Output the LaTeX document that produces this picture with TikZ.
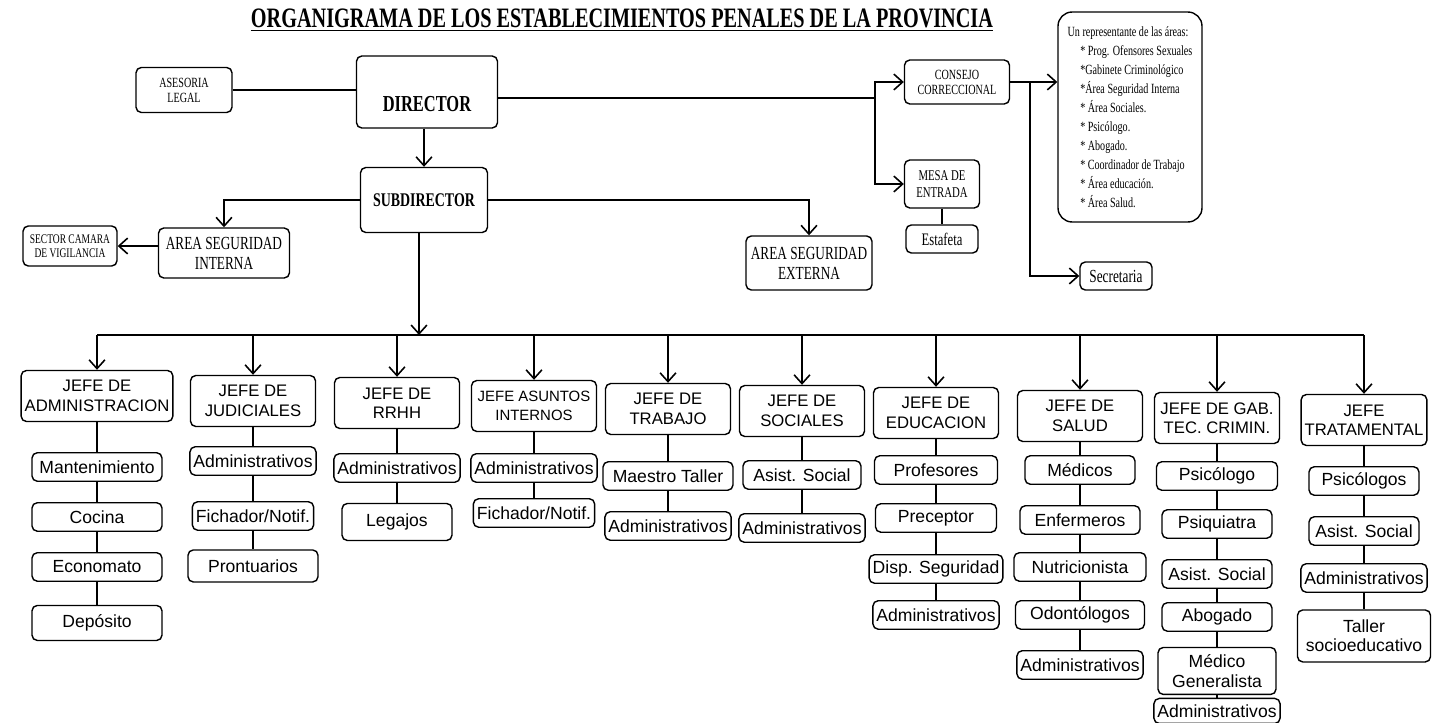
\documentclass[tikz,border=0pt]{standalone}
\usepackage{fontspec}
\setmainfont{Liberation Serif}
\setsansfont{Liberation Sans}
\newfontfamily\condfont{Liberation Serif}[FakeStretch=0.72]
\usetikzlibrary{arrows.meta, positioning}

\begin{document}
\begin{tikzpicture}[x=0.02cm, y=0.02cm, >={Straight Barb[length=5pt,width=9pt]},
                    node distance=1cm, line width=0.9pt,
                    orgbox/.style={draw, rounded corners=3pt, line width=0.8pt,
                                   align=center, inner sep=2pt},
                    headbox/.style={orgbox, font=\condfont\fontsize{8}{8.5}\selectfont},
                    chief/.style={orgbox, font=\sffamily\fontsize{9.5}{11}\selectfont,
                                  minimum width=2.5cm, minimum height=1.02cm},
                    item/.style={orgbox, font=\sffamily\fontsize{10}{11}\selectfont,
                                 minimum width=2.2cm, minimum height=0.57cm},
                    thinlink/.style={line width=0.6pt}]

    \useasboundingbox (0,0) rectangle (1434,-723);

    % Titulo
    \node[font=\condfont\bfseries\fontsize{16}{18}\selectfont] (title) at (622,-20)
        {\underline{ORGANIGRAMA DE LOS ESTABLECIMIENTOS PENALES DE LA PROVINCIA}};

    % Direccion y areas superiores
    \node[headbox, minimum width=1.92cm, minimum height=0.9cm] (ase) at (184,-90) {ASESORIA\\LEGAL};
    \node[headbox, minimum width=2.82cm, minimum height=1.44cm, text height=22pt, text depth=0pt,
          font=\condfont\bfseries\fontsize{13}{14}\selectfont] (dir) at (427,-92) {DIRECTOR};
    \node[headbox, minimum width=2.54cm, minimum height=1.3cm,
          font=\condfont\bfseries\fontsize{11}{12}\selectfont] (sub) at (424,-200) {SUBDIRECTOR};
    \node[headbox, minimum width=2.62cm, minimum height=1.0cm,
          font=\condfont\fontsize{10.5}{11.5}\selectfont] (asi) at (224,-253) {AREA SEGURIDAD\\INTERNA};
    \node[headbox, minimum width=1.88cm, minimum height=0.8cm,
          font=\condfont\fontsize{7.5}{8}\selectfont] (sect) at (70,-246) {SECTOR CAMARA\\DE VIGILANCIA};
    \node[headbox, minimum width=2.52cm, minimum height=1.08cm,
          font=\condfont\fontsize{10.5}{11.5}\selectfont] (asx) at (809,-263) {AREA SEGURIDAD\\EXTERNA};
    \node[headbox, minimum width=2.1cm, minimum height=0.88cm] (cons) at (957,-82) {CONSEJO\\CORRECCIONAL};
    \node[headbox, minimum width=1.5cm, minimum height=0.96cm,
          font=\condfont\fontsize{8.5}{9.5}\selectfont] (mesa) at (942,-184) {MESA DE\\ENTRADA};
    \node[headbox, below of=mesa, node distance=1.1cm, minimum width=1.44cm, minimum height=0.56cm,
          font=\condfont\fontsize{10}{11}\selectfont] (esta) {Estafeta};
    \node[headbox, rounded corners=8pt, minimum width=2.88cm, minimum height=4.2cm, align=left,
          inner sep=1pt, font=\condfont\fontsize{8}{10.8}\selectfont] (rep) at (1130,-117)
        {Un representante de las áreas:\\
         \hspace*{0.9em}* Prog. Ofensores Sexuales\\
         \hspace*{0.9em}*Gabinete Criminológico\\
         \hspace*{0.9em}*Área Seguridad Interna\\
         \hspace*{0.9em}* Área Sociales.\\
         \hspace*{0.9em}* Psicólogo.\\
         \hspace*{0.9em}* Abogado.\\
         \hspace*{0.9em}* Coordinador de Trabajo\\
         \hspace*{0.9em}* Área educación.\\
         \hspace*{0.9em}* Área Salud.};
    \node[headbox, minimum width=1.44cm, minimum height=0.56cm,
          font=\condfont\fontsize{10.5}{11.5}\selectfont] (sec) at (1116,-276) {Secretaria};

    \coordinate (dsplit) at (875,-98);
    \coordinate (csplit) at (1030,-82);
    \coordinate (bus) at (419,-335);

    % Jefaturas
    \node[chief] (jadm) at (97,-396) {JEFE DE\\ADMINISTRACION};
    \node[chief] (jjud) at (253,-401) {JEFE DE\\JUDICIALES};
    \node[chief] (jrh) at (397,-403) {JEFE DE\\RRHH};
    \node[chief, font=\sffamily\fontsize{8.5}{10.5}\selectfont] (jai) at (534,-406) {JEFE ASUNTOS\\INTERNOS};
    \node[chief] (jtra) at (668,-409) {JEFE DE\\TRABAJO};
    \node[chief] (jsoc) at (802,-411) {JEFE DE\\SOCIALES};
    \node[chief] (jedu) at (936,-413) {JEFE DE\\EDUCACION};
    \node[chief] (jsal) at (1080,-416) {JEFE DE\\SALUD};
    \node[chief] (jgab) at (1217,-418) {JEFE DE GAB.\\TEC. CRIMIN.};
    \node[chief] (jtrat) at (1364,-420) {JEFE\\TRATAMENTAL};

    % Dependencias de cada jefatura
    \node[item, minimum width=2.6cm, below of=jadm, node distance=1.42cm] (a1) {Mantenimiento};
    \node[item, minimum width=2.6cm, below of=a1] (a2) {Cocina};
    \node[item, minimum width=2.6cm, below of=a2] (a3) {Economato};
    \node[item, minimum width=2.6cm, minimum height=0.7cm, below of=a3, node distance=1.12cm] (a4) {Depósito};

    \node[item, below of=jjud, node distance=1.2cm] (b1) {Administrativos};
    \node[item, below of=b1, node distance=1.1cm] (b2) {Fichador/Notif.};
    \node[item, minimum width=2.6cm, minimum height=0.64cm, below of=b2] (b3) {Prontuarios};

    \node[item, below of=jrh, node distance=1.3cm] (c1) {Administrativos};
    \node[item, minimum height=0.74cm, below of=c1, node distance=1.08cm] (c2) {Legajos};

    \node[item, below of=jai, node distance=1.24cm] (d1) {Administrativos};
    \node[item, below of=d1, node distance=0.9cm] (d2) {Fichador/Notif.};

    \node[item, minimum width=2.6cm, below of=jtra, node distance=1.34cm] (e1) {Maestro Taller};
    \node[item, below of=e1] (e2) {Administrativos};

    \node[item, minimum width=2.36cm, below of=jsoc, node distance=1.28cm] (f1) {Asist. Social};
    \node[item, below of=f1, node distance=1.06cm] (f2) {Administrativos};

    \node[item, minimum width=2.46cm, below of=jedu, node distance=1.14cm] (g1) {Profesores};
    \node[item, minimum width=2.42cm, below of=g1, node distance=0.96cm] (g2) {Preceptor};
    \node[item, below of=g2, node distance=1.02cm] (g3) {Disp. Seguridad};
    \node[item, below of=g3, node distance=0.92cm] (g4) {Administrativos};

    \node[item, below of=jsal, node distance=1.08cm] (h1) {Médicos};
    \node[item, minimum width=2.4cm, below of=h1] (h2) {Enfermeros};
    \node[item, minimum width=2.64cm, below of=h2, node distance=0.94cm] (h3) {Nutricionista};
    \node[item, minimum width=2.58cm, below of=h3, node distance=0.96cm] (h4) {Odontólogos};
    \node[item, below of=h4] (h5) {Administrativos};

    \node[item, minimum width=2.42cm, below of=jgab, node distance=1.16cm] (i1) {Psicólogo};
    \node[item, below of=i1, node distance=0.96cm] (i2) {Psiquiatra};
    \node[item, below of=i2] (i3) {Asist. Social};
    \node[item, below of=i3, node distance=0.86cm] (i4) {Abogado};
    \node[item, minimum width=2.36cm, minimum height=0.94cm, below of=i4, node distance=1.08cm] (i5) {Médico\\Generalista};
    \node[item, minimum height=0.5cm, below of=i5, node distance=0.8cm] (i6) {Administrativos};

    \node[item, below of=jtrat, node distance=1.22cm] (k1) {Psicólogos};
    \node[item, below of=k1] (k2) {Asist. Social};
    \node[item, below of=k2, node distance=0.94cm] (k3) {Administrativos};
    \node[item, minimum width=2.66cm, minimum height=1.04cm, below of=k3, node distance=1.16cm] (k4) {Taller\\socioeducativo};

    % Conexiones superiores
    \draw (ase.east) -- (ase.east -| dir.west);
    \draw (dir.east |- dsplit) -- (dsplit);
    \draw[->] (dsplit) |- (cons);
    \draw[->] (dsplit) |- (mesa);
    \draw[thinlink] (mesa) -- (esta);
    \draw[->] (cons) -- (cons -| rep.west);
    \draw[->] (csplit) |- (sec);
    \draw[->] (dir.south -| sub) -- (sub);
    \draw[->] (sub) -| (asi);
    \draw[->] (sub) -| (asx);
    \draw[->] (asi.west |- sect) -- (sect);

    % Linea de jefaturas
    \draw[->] (sub.south -| bus) -- (bus);
    \draw (bus -| jadm) -- (bus -| jtrat);
    \draw (bus -| jadm) edge[->] (jadm) (bus -| jjud) edge[->] (jjud)
          (bus -| jrh) edge[->] (jrh) (bus -| jai) edge[->] (jai)
          (bus -| jtra) edge[->] (jtra) (bus -| jsoc) edge[->] (jsoc)
          (bus -| jedu) edge[->] (jedu) (bus -| jsal) edge[->] (jsal)
          (bus -| jgab) edge[->] (jgab) (bus -| jtrat) edge[->] (jtrat);

    % Lineas internas
    \draw[thinlink] (jadm) edge (a1) (a1) edge (a2) (a2) edge (a3) (a3) edge (a4)
                    (jjud) edge (b1) (b1) edge (b2) (b2) edge (b3)
                    (jrh) edge (c1) (c1) edge (c2)
                    (jai) edge (d1) (d1) edge (d2)
                    (jtra) edge (e1) (e1) edge (e2)
                    (jsoc) edge (f1) (f1) edge (f2)
                    (jedu) edge (g1) (g1) edge (g2) (g2) edge (g3) (g3) edge (g4)
                    (jsal) edge (h1) (h1) edge (h2) (h2) edge (h3) (h3) edge (h4) (h4) edge (h5)
                    (jgab) edge (i1) (i1) edge (i2) (i2) edge (i3) (i3) edge (i4) (i4) edge (i5) (i5) edge (i6)
                    (jtrat) edge (k1) (k1) edge (k2) (k2) edge (k3) (k3) edge (k4);
\end{tikzpicture}
\end{document}
